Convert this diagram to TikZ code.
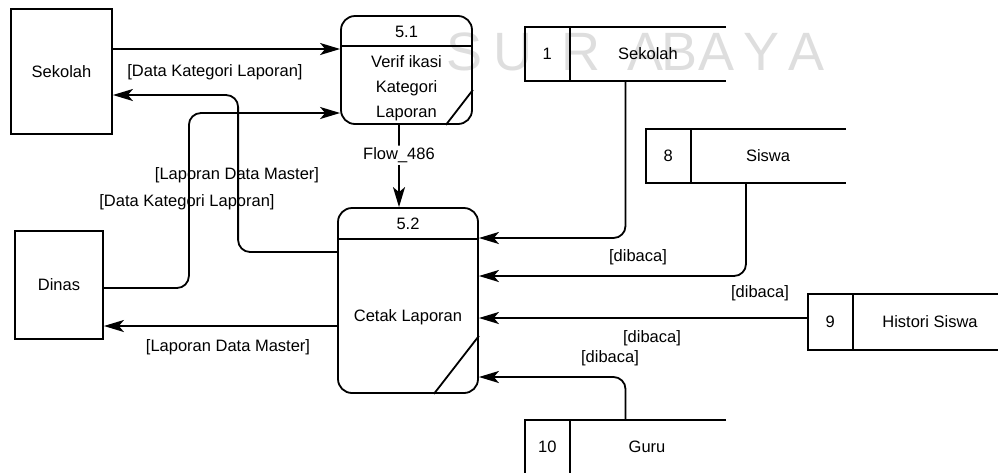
\documentclass[tikz,border=0pt]{standalone}
\usepackage{fontspec}
\setmainfont{Liberation Sans}
\usetikzlibrary{arrows.meta}
\definecolor{wmark}{gray}{0.87}

\begin{document}
\begin{tikzpicture}[x=1pt, y=-1pt,
	font=\fontsize{16.5}{19}\selectfont,
	entity/.style={draw, line width=1.8pt, inner sep=0pt},
	process/.style={draw, line width=1.8pt, rounded corners=14pt, inner sep=0pt},
	store/.style={inner sep=0pt},
	flow/.style={line width=1.8pt, rounded corners=12pt, -{Stealth[length=20pt, width=12pt, inset=5pt]}}]

	\def\lw{1.8pt}
	\useasboundingbox (0,0) rectangle (998,472);

	\foreach \ch/\cx in {S/465, U/513, R/581, A/645, B/679, A/716, Y/761, A/806}
		\node[text=wmark, font=\fontsize{54}{54}\selectfont, inner sep=0pt] (wm\cx) at (\cx,52) {\ch};

	\node[entity, minimum width=101pt, minimum height=125pt] (sekolah) at (61.5,71.5) {Sekolah};
	\node[entity, minimum width=88pt, minimum height=108pt] (dinas) at (59,285) {Dinas};

	\node[process, minimum width=131pt, minimum height=108pt] (p51) at (406.5,70) {};
	\draw[line width=\lw] ([yshift=-31pt]p51.north west) -- ([yshift=-31pt]p51.north east);
	\draw[line width=\lw] ([xshift=-27pt]p51.south east) -- ([yshift=35pt]p51.south east);
	\node (p51id) at (406.5,32) {5.1};
	\node[align=center, font=\fontsize{16.5}{25}\selectfont] (p51txt) at (406.5,88) {Verif ikasi\\Kategori\\Laporan};

	\node[process, minimum width=140pt, minimum height=185pt] (p52) at (408,300.5) {};
	\draw[line width=\lw] ([yshift=-32pt]p52.north west) -- ([yshift=-32pt]p52.north east);
	\draw[line width=\lw] ([xshift=-45pt]p52.south east) -- ([yshift=58pt]p52.south east);
	\node (p52id) at (408,224) {5.2};
	\node (p52txt) at (408,317) {Cetak Laporan};

	\foreach \n/\cx/\cy/\w/\h/\tx/\txt in {1/625.5/54/201/54/648/Sekolah, 8/746/156/200/54/768/Siswa,
			9/903/322/190/56/930/Histori Siswa, 10/625.5/447/201/54/647/Guru} {
		\node[store, minimum width=\w pt, minimum height=\h pt] (ds\n) at (\cx,\cy) {};
		\draw[line width=\lw] (ds\n.north east) -- (ds\n.north west) -- (ds\n.south west) -- (ds\n.south east);
		\draw[line width=\lw] ([xshift=45pt]ds\n.north west) -- ([xshift=45pt]ds\n.south west);
		\node (dsid\n) at ([xshift=22.5pt]ds\n.west) {\n};
		\node (dstxt\n) at (\tx,\cy) {\txt};
	}

	\draw[flow] ([yshift=22.5pt]sekolah.east) -- ([yshift=22.5pt]sekolah.east -| p51.west);
	\draw[flow] ([yshift=48.5pt]p52.west) -- ++(-99,0) |- ([yshift=-23.5pt]sekolah.east);
	\draw[flow] ([yshift=-3pt]dinas.east) -- ++(85,0) |- ([yshift=-43pt]p51.west);
	\draw[flow] ([yshift=-25.5pt]p52.west) -- ([yshift=-25.5pt]p52.west -| dinas.east);
	\draw[flow] ([xshift=-7.5pt]p51.south) -- ([xshift=-7.5pt]p51.south |- p52.north)
		node[pos=0.37, fill=white, inner sep=2pt] (f486) {Flow\_486};

	\draw[flow] (ds1.south) |- ([yshift=62.5pt]p52.east);
	\draw[flow] (ds8.south) |- ([yshift=24.5pt]p52.east);
	\draw[flow] ([yshift=4pt]ds9.west) -- ([yshift=4pt]ds9.west -| p52.east);
	\draw[flow] (ds10.north) |- ([yshift=-76.5pt]p52.east);

	\node (lbl1) at (215,72) {[Data Kategori Laporan]};
	\node (lbl2) at (237,175) {[Laporan Data Master]};
	\node (lbl3) at (187,202) {[Data Kategori Laporan]};
	\node (lbl4) at (228,347) {[Laporan Data Master]};
	\node (lbl5) at (638,257) {[dibaca]};
	\node (lbl6) at (760,293) {[dibaca]};
	\node (lbl7) at (652,338) {[dibaca]};
	\node (lbl8) at (610,358) {[dibaca]};

\end{tikzpicture}
\end{document}
